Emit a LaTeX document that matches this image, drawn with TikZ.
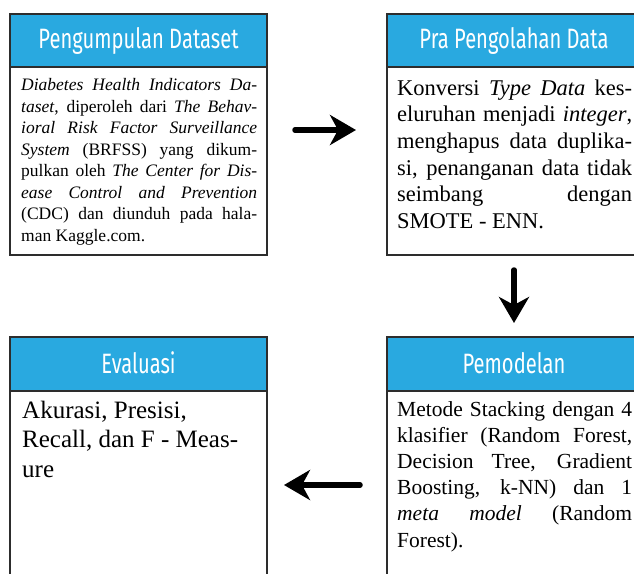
\documentclass[tikz,border=0pt]{standalone}
\usepackage{fontspec}
\setmainfont{Liberation Serif}
\newfontfamily\hdrfont[FakeStretch=0.72]{Fira Sans}
\usetikzlibrary{arrows.meta}
\definecolor{hdrblue}{RGB}{41,169,224}
\definecolor{edge}{RGB}{45,45,45}
\newcommand\jline[2]{\makebox[#1][s]{#2}}
\tikzset{
  hdr/.style={draw=edge, line width=1.2pt, fill=hdrblue, anchor=north west, inner sep=0pt, outer sep=0pt},
  bodybox/.style={draw=edge, line width=1.2pt, fill=white, anchor=north west, inner sep=0pt, outer sep=0pt},
  title/.style={text=white, font=\hdrfont\fontsize{28}{28}\selectfont, anchor=base, inner sep=0pt},
  txt/.style={anchor=base west, inner sep=0pt, text=black},
  flow/.style={line width=5.5pt, line cap=round, -{Stealth[length=26pt,width=30pt,inset=8pt]}}
}
\begin{document}
\begin{tikzpicture}[x=1pt,y=-1pt]
\useasboundingbox (0,0) rectangle (634,573);
\clip (0,0) rectangle (634,573);
\fill[white] (0,0) rectangle (634,573);
% Box 1
\node[hdr, minimum width=257pt, minimum height=53pt] (h1) at (10,14) {};
\node[bodybox, minimum width=257pt, minimum height=188pt] (b1) at (10,67) {};
\node[title] (t1) at (138.5,48.5) {Pengumpulan Dataset};
\node[txt, font=\fontsize{17.5}{21.5}\selectfont] (x1) at (21,90.7) {\parbox[t]{236pt}{%
\jline{236pt}{\textit{Diabetes Health Indicators Da-}}\\
\jline{236pt}{\textit{taset}, diperoleh dari \textit{The Behav-}}\\
\jline{236pt}{\textit{ioral Risk Factor Surveillance}}\\
\jline{236pt}{\textit{System} (BRFSS) yang dikum-}\\
\jline{236pt}{pulkan oleh \textit{The Center for Dis-}}\\
\jline{236pt}{\textit{ease Control and Prevention}}\\
\jline{236pt}{(CDC) dan diunduh pada hala-}\\
man Kaggle.com.}};
% Box 2
\node[hdr, minimum width=255pt, minimum height=53pt] (h2) at (387,14) {};
\node[bodybox, minimum width=255pt, minimum height=188pt] (b2) at (387,67) {};
\node[title] (t2) at (514,48.5) {Pra Pengolahan Data};
\node[txt, font=\fontsize{22.5}{26.7}\selectfont] (x2) at (397,95) {\parbox[t]{235pt}{%
\jline{235pt}{Konversi \textit{Type Data} kes-}\\
\jline{235pt}{eluruhan menjadi \textit{integer},}\\
\jline{235pt}{menghapus data duplika-}\\
\jline{235pt}{si, penanganan data tidak}\\
\jline{235pt}{seimbang dengan}\\
SMOTE - ENN.}};
% Box 3
\node[hdr, minimum width=257pt, minimum height=54pt] (h3) at (10,337) {};
\node[bodybox, minimum width=257pt, minimum height=220pt] (b3) at (10,391) {};
\node[title] (t3) at (138.5,373) {Evaluasi};
\node[txt, font=\fontsize{25}{29.5}\selectfont] (x3) at (22,418) {\parbox[t]{240pt}{%
Akurasi, Presisi,\\
Recall, dan F - Meas-\\
ure}};
% Box 4
\node[hdr, minimum width=255pt, minimum height=54pt] (h4) at (387,337) {};
\node[bodybox, minimum width=255pt, minimum height=220pt] (b4) at (387,391) {};
\node[title] (t4) at (514,373) {Pemodelan};
\node[txt, font=\fontsize{21.5}{26.2}\selectfont] (x4) at (397,416) {\parbox[t]{235pt}{%
\jline{235pt}{Metode Stacking dengan 4}\\
\jline{235pt}{klasifier (Random Forest,}\\
\jline{235pt}{Decision Tree, Gradient}\\
\jline{235pt}{Boosting, k-NN) dan 1}\\
\jline{235pt}{\textit{meta model} (Random}\\
Forest).}};
% Arrows
\coordinate (a1s) at (295,130);
\coordinate (a1e) at (356,130);
\coordinate (a2s) at (514,270);
\coordinate (a2e) at (514,323);
\coordinate (a3s) at (360,485);
\coordinate (a3e) at (284,485);
\draw[flow] (a1s) -- (a1e);
\draw[flow] (a2s) -- (a2e);
\draw[flow] (a3s) -- (a3e);
\end{tikzpicture}
\end{document}
